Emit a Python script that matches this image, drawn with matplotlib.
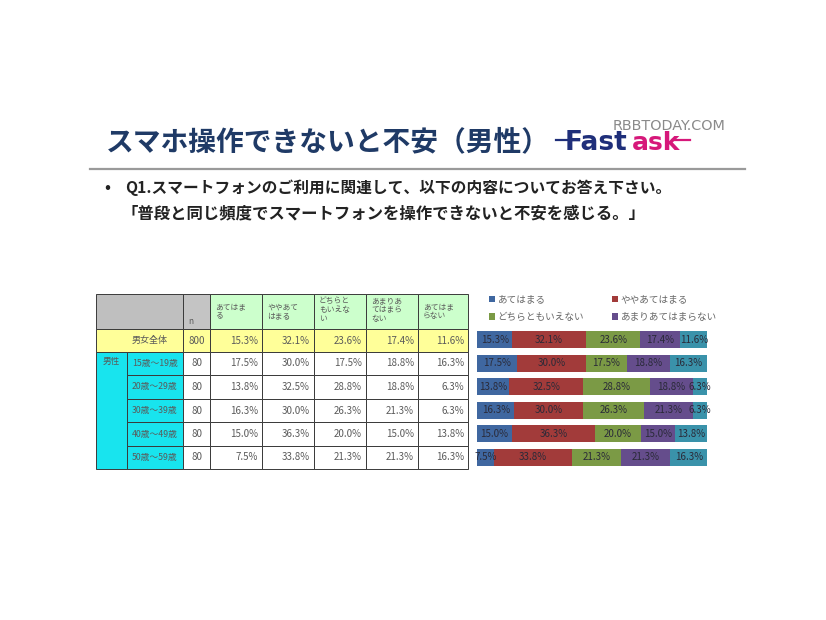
import matplotlib
matplotlib.use("Agg")
import matplotlib.pyplot as plt
from matplotlib.patches import Rectangle

plt.rcParams['font.family'] = ['Noto Sans CJK JP', 'DejaVu Sans']

# ---------------- data ----------------
title = "スマホ操作できないと不安（男性）"
question_1 = "Q1.スマートフォンのご利用に関連して、以下の内容についてお答え下さい。"
question_2 = "「普段と同じ頻度でスマートフォンを操作できないと不安を感じる。」"
answers = ["あてはまる", "ややあてはまる", "どちらともいえない", "あまりあてはまらない", "あてはまらない"]
header_labels = ["あてはま\nる", "ややあて\nはまる", "どちらと\nもいえな\nい", "あまりあ\nてはまら\nない", "あてはま\nらない"]
rows = ["男女全体", "15歳～19歳", "20歳～29歳", "30歳～39歳", "40歳～49歳", "50歳～59歳"]
group_label = "男性"
n_values = [800, 80, 80, 80, 80, 80]
s_atehamaru = [15.3, 17.5, 13.8, 16.3, 15.0, 7.5]
s_yaya = [32.1, 30.0, 32.5, 30.0, 36.3, 33.8]
s_dochira = [23.6, 17.5, 28.8, 26.3, 20.0, 21.3]
s_amari = [17.4, 18.8, 18.8, 21.3, 15.0, 21.3]
s_not = [11.6, 16.3, 6.3, 6.3, 13.8, 16.3]
series = [s_atehamaru, s_yaya, s_dochira, s_amari, s_not]
colors = ["#3f67a0", "#a23b3a", "#7b9a45", "#654d8c", "#3a92aa"]

W, H = 826, 620
fig = plt.figure(figsize=(W / 100, H / 100), dpi=100)
fig.patch.set_facecolor("white")

bg = fig.add_axes([0, 0, 1, 1])
bg.set_xlim(0, W)
bg.set_ylim(H, 0)
bg.axis("off")

# ---------------- header area ----------------
bg.text(106, 142, title, fontsize=20, fontweight="bold", color="#1f3a66",
        va="center", ha="left")
bg.plot([556, 572], [140, 140], color="#1f2f7a", lw=1.6)
bg.text(565, 143, "Fast", fontsize=19, fontweight="bold", color="#1f2f7a",
        va="center", ha="left", family="DejaVu Sans")
bg.text(632, 143, "ask", fontsize=18, fontweight="bold", color="#d6187a",
        va="center", ha="left", family="DejaVu Sans")
bg.plot([672, 690], [140, 140], color="#d6187a", lw=1.6)
bg.text(613, 126, "RBBTODAY.COM", fontsize=10.4, color="#8a8a8a",
        va="center", ha="left", family="DejaVu Sans")
bg.plot([90, 745], [169, 169], color="#9a9a9a", lw=1.6)

bg.text(104, 188, "•", fontsize=13, color="#222222", va="center", ha="left")
bg.text(125, 188, question_1, fontsize=11.3, fontweight="bold", color="#222222",
        va="center", ha="left")
bg.text(122, 213, question_2, fontsize=11.8, fontweight="bold", color="#222222",
        va="center", ha="left")

# ---------------- table ----------------
col_x = [96, 127, 183, 210, 262, 314, 366, 418, 468]
row_y = [294, 329, 352, 375, 399, 422, 446, 469]
line_c = "#3a3a3a"
txt_c = "#5a5a5a"

def cell(x0, x1, y0, y1, fc):
    bg.add_patch(Rectangle((x0, y0), x1 - x0, y1 - y0, facecolor=fc,
                           edgecolor=line_c, lw=0.7))

# header row
cell(col_x[0], col_x[2], row_y[0], row_y[1], "#bfbfbf")
cell(col_x[2], col_x[3], row_y[0], row_y[1], "#c4c4c4")
bg.text(col_x[2] + 5, row_y[1] - 8, "n", fontsize=6, color=txt_c, va="center", ha="left")
for j, lab in enumerate(header_labels):
    cell(col_x[3 + j], col_x[4 + j], row_y[0], row_y[1], "#ccffcc")
    nl = lab.count("\n") + 1
    yc = (row_y[0] + row_y[1]) / 2 if nl == 2 else row_y[0] + 16
    bg.text(col_x[3 + j] + 5, yc, lab, fontsize=5.6, color=txt_c,
            va="center", ha="left", linespacing=1.1)

# total row
cell(col_x[0], col_x[2], row_y[1], row_y[2], "#ffff99")
bg.text(150, (row_y[1] + row_y[2]) / 2, rows[0], fontsize=6.5, color=txt_c,
        va="center", ha="center")
cell(col_x[2], col_x[3], row_y[1], row_y[2], "#ffff99")
bg.text((col_x[2] + col_x[3]) / 2, (row_y[1] + row_y[2]) / 2, str(n_values[0]),
        fontsize=7, color=txt_c, va="center", ha="center")
for j, s in enumerate(series):
    cell(col_x[3 + j], col_x[4 + j], row_y[1], row_y[2], "#ffff99")
    bg.text(col_x[4 + j] - 4, (row_y[1] + row_y[2]) / 2, f"{s[0]:.1f}%",
            fontsize=7, color=txt_c, va="center", ha="right")

# group rows
cell(col_x[0], col_x[1], row_y[2], row_y[-1], "#18e4ee")
bg.text(col_x[0] + 7, row_y[2] + 9, group_label, fontsize=6.2, color=txt_c,
        va="center", ha="left")
for i in range(1, len(rows)):
    y0, y1 = row_y[i + 1], row_y[i + 2]
    yc = (y0 + y1) / 2
    cell(col_x[1], col_x[2], y0, y1, "#18e4ee")
    bg.text(col_x[1] + 5, yc, rows[i], fontsize=6.3, color=txt_c, va="center", ha="left")
    cell(col_x[2], col_x[3], y0, y1, "white")
    bg.text((col_x[2] + col_x[3]) / 2, yc, str(n_values[i]), fontsize=7,
            color=txt_c, va="center", ha="center")
    for j, s in enumerate(series):
        cell(col_x[3 + j], col_x[4 + j], y0, y1, "white")
        bg.text(col_x[4 + j] - 4, yc, f"{s[i]:.1f}%", fontsize=7, color=txt_c,
                va="center", ha="right")

# ---------------- stacked bar chart ----------------
ax_l, ax_r, ax_t, ax_b = 477, 707, 328, 469
ax = fig.add_axes([ax_l / W, 1 - ax_b / H, (ax_r - ax_l) / W, (ax_b - ax_t) / H])
ax.set_xlim(0, 100)
ax.set_ylim(len(rows) - 0.5, -0.5)
ax.axis("off")

ypos = list(range(len(rows)))
left = [0.0] * len(rows)
containers = []
for k, s in enumerate(series):
    bc = ax.barh(ypos, s, left=left, height=0.74, color=colors[k],
                 edgecolor="none", label=answers[k])
    containers.append(bc)
    for i, v in enumerate(s):
        ax.text(left[i] + v / 2, i, f"{v:.1f}%", fontsize=7, color="#2a2a38",
                va="center", ha="center", clip_on=False)
    left = [a + b for a, b in zip(left, s)]

handles = [containers[0], containers[2], containers[1], containers[3]]
labels = [answers[0], answers[2], answers[1], answers[3]]
fig.legend(handles, labels, ncol=2, loc="upper left",
           bbox_to_anchor=(489 / W, 1 - 295.5 / H), frameon=False,
           fontsize=6.9, handlelength=0.65, handleheight=0.65,
           handletextpad=0.25, columnspacing=2.9, labelspacing=0.85,
           labelcolor="#666666", borderaxespad=0, borderpad=0)

fig.savefig("out.png", dpi=100, facecolor="white")
